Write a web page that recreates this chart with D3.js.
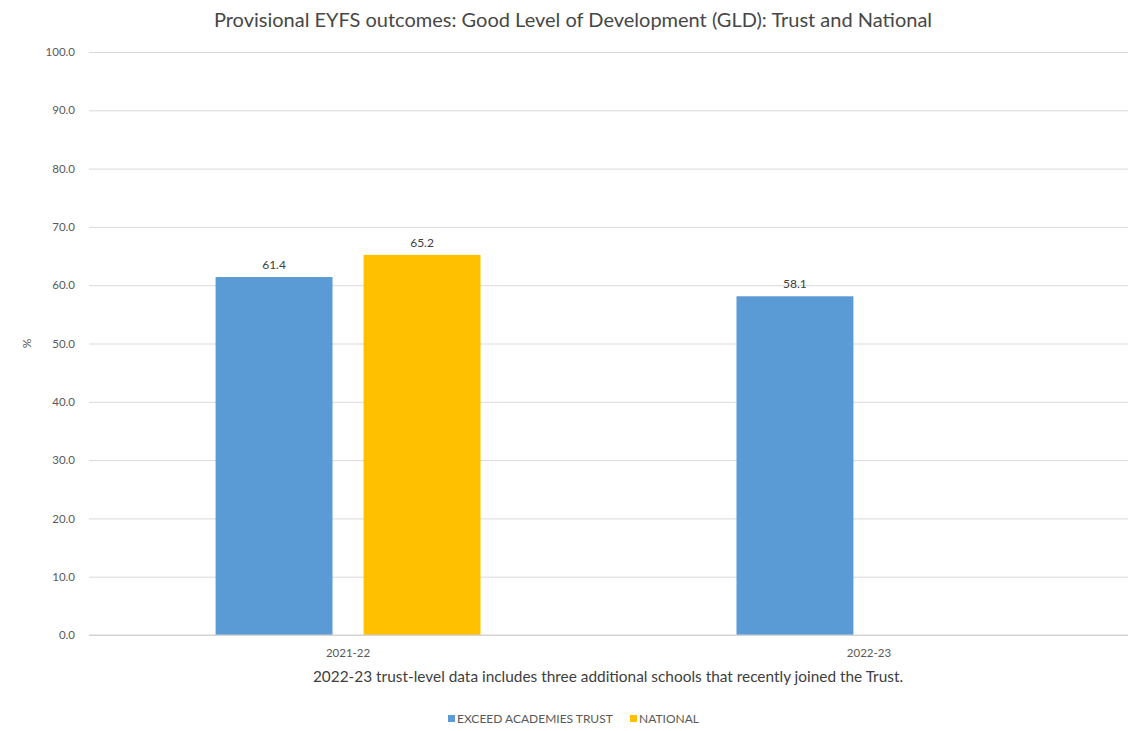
<!DOCTYPE html>
<html>
<head>
<meta charset="utf-8">
<script src="https://cdn.jsdelivr.net/npm/d3@7"></script>
<style>
  html, body { margin: 0; padding: 0; background: #ffffff; }
  svg { display: block; font-family: Lato, "Open Sans", sans-serif; }
</style>
</head>
<body>
<svg id="chart" width="1129" height="731"></svg>
<script>
// Academic years on the x axis
const categories = ["2021-22", "2022-23"];
// Series names (legend order)
const seriesNames = ["EXCEED ACADEMIES TRUST", "NATIONAL"];
// GLD % per series, aligned with categories (null = not yet published)
const trustValues = [61.4, 58.1];
const nationalValues = [65.2, null];
// Y axis tick values
const yTicks = [0, 10, 20, 30, 40, 50, 60, 70, 80, 90, 100];

const titleText = "Provisional EYFS outcomes: Good Level of Development (GLD): Trust and National";
const footnoteText = "2022-23 trust-level data includes three additional schools that recently joined the Trust.";

const colors = { "EXCEED ACADEMIES TRUST": "#5B9BD5", "NATIONAL": "#FFC000" };

const svg = d3.select("#chart");
const plot = { left: 89, right: 1128, top: 52, bottom: 635 };

const y = d3.scaleLinear().domain([0, 100]).range([plot.bottom, plot.top]);

const x0 = d3.scaleBand()
  .domain(categories)
  .range([plot.left, plot.right])
  .paddingInner(0.4914)
  .paddingOuter(0.243);

const x1 = d3.scaleBand()
  .domain(seriesNames)
  .range([0, x0.bandwidth()])
  .paddingInner(0.21)
  .paddingOuter(0);

// Title
svg.append("text")
  .attr("x", 573).attr("y", 27)
  .attr("text-anchor", "middle")
  .attr("font-size", 20)
  .attr("fill", "#474747")
  .text(titleText);

// Gridlines + y tick labels
const yAxis = d3.axisLeft(y)
  .tickValues(yTicks)
  .tickSize(-(plot.right - plot.left))
  .tickPadding(14)
  .tickFormat(d3.format(".1f"));

const yg = svg.append("g")
  .attr("transform", `translate(${plot.left},0)`)
  .call(yAxis);
yg.select(".domain").remove();
yg.selectAll(".tick line").attr("stroke", "#d9d9d9").attr("stroke-width", 1);
yg.selectAll(".tick text")
  .attr("fill", "#595959")
  .attr("font-size", 11.5)
  .attr("font-family", "Lato, sans-serif");

// Y axis title
svg.append("text")
  .attr("transform", `translate(31,${(plot.top + plot.bottom) / 2}) rotate(-90)`)
  .attr("text-anchor", "middle")
  .attr("font-size", 12)
  .attr("fill", "#595959")
  .text("%");

// Data rows
const rows = categories.map((c, i) => ({
  cat: c,
  values: [
    { key: seriesNames[0], value: trustValues[i] },
    { key: seriesNames[1], value: nationalValues[i] }
  ].filter(d => d.value !== null)
}));

const groups = svg.append("g").selectAll("g")
  .data(rows)
  .join("g")
  .attr("transform", d => `translate(${x0(d.cat)},0)`);

groups.selectAll("rect")
  .data(d => d.values)
  .join("rect")
  .attr("x", d => x1(d.key))
  .attr("y", d => y(d.value))
  .attr("width", x1.bandwidth())
  .attr("height", d => y(0) - y(d.value))
  .attr("fill", d => colors[d.key]);

groups.selectAll("text.val")
  .data(d => d.values)
  .join("text")
  .attr("class", "val")
  .attr("x", d => x1(d.key) + x1.bandwidth() / 2)
  .attr("y", d => y(d.value) - 8)
  .attr("text-anchor", "middle")
  .attr("font-size", 12)
  .attr("fill", "#404040")
  .text(d => d3.format(".1f")(d.value));

// Baseline
svg.append("line")
  .attr("x1", plot.left).attr("x2", plot.right)
  .attr("y1", y(0)).attr("y2", y(0))
  .attr("stroke", "#d0d0d0");

// Category labels
const xAxis = d3.axisBottom(x0).tickSize(0).tickPadding(14);
const xg = svg.append("g")
  .attr("transform", `translate(0,${plot.bottom})`)
  .call(xAxis);
xg.select(".domain").remove();
xg.selectAll(".tick text")
  .attr("fill", "#595959")
  .attr("font-size", 11.5)
  .attr("font-family", "Lato, sans-serif");

// Footnote
svg.append("text")
  .attr("x", 608).attr("y", 682)
  .attr("text-anchor", "middle")
  .attr("font-size", 15.4)
  .attr("fill", "#404040")
  .text(footnoteText);

// Legend
const legendItems = [
  { key: seriesNames[0], x: 448 },
  { key: seriesNames[1], x: 630 }
];
const lg = svg.append("g").selectAll("g")
  .data(legendItems)
  .join("g")
  .attr("transform", d => `translate(${d.x},719)`);
lg.append("rect")
  .attr("x", 0).attr("y", -4)
  .attr("width", 7).attr("height", 7)
  .attr("fill", d => colors[d.key]);
lg.append("text")
  .attr("x", 9).attr("y", 4)
  .attr("font-size", 12)
  .attr("fill", "#595959")
  .text(d => d.key);
</script>
</body>
</html>
